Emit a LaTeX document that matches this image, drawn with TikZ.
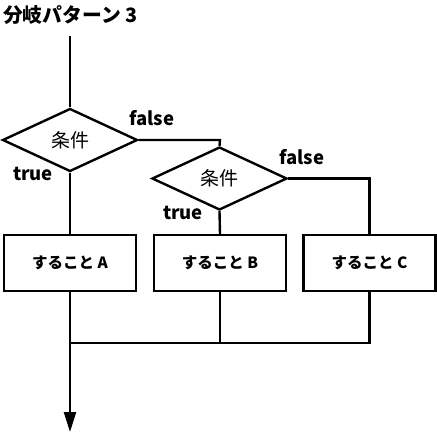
\documentclass[tikz,border=0pt]{standalone}
\usepackage{fontspec}
\setmainfont{Noto Sans CJK JP}
\usetikzlibrary{shapes.geometric,arrows.meta}
\tikzset{
  flow/.style={line width=2.4pt},
  cond/.style={diamond,draw,line width=2.4pt,minimum width=135pt,minimum height=63pt,inner sep=0pt,font=\fontsize{19pt}{19pt}\selectfont},
  act/.style={rectangle,draw,line width=2.4pt,minimum width=132pt,minimum height=56pt,inner sep=0pt,font=\bfseries\fontsize{15.5pt}{15.5pt}\selectfont},
  lbl/.style={inner sep=0pt,font=\bfseries\fontsize{18.5pt}{18.5pt}\selectfont},
}
\begin{document}
\begin{tikzpicture}[x=1pt,y=-1pt]
\useasboundingbox (0,0) rectangle (437,437);
\node[anchor=west,inner sep=0pt,font=\bfseries\fontsize{19.8pt}{19.8pt}\selectfont] (title) at (3,15) {分岐パターン 3};
\coordinate (s) at (70,36);
\node[cond] (d1) at (70,140) {条件};
\node[cond] (d2) at (219.5,178.5) {条件};
\coordinate (j1) at (220,140);
\node[act] (A) at (70,263) {すること A};
\node[act] (B) at (220,263) {すること B};
\node[act] (C) at (369.5,263) {すること C};
\coordinate (m) at (70,343);
\coordinate (e) at (70,432);
\node[lbl] (f1) at (152,118) {false};
\node[lbl] (t1) at (33,174) {true};
\node[lbl] (f2) at (302,157) {false};
\node[lbl] (t2) at (183,213) {true};
\draw[flow] (s) -- (d1.north);
\draw[flow] (d1.east) -- (j1) -- (d2.north);
\draw[flow] (d1.south) -- (A.north);
\draw[flow] (d2.south) -- (B.north);
\draw[flow] (d2.east) -| (C.north);
\draw[flow] (B.south) |- (m);
\draw[flow] (C.south) |- (m);
\draw[flow,-{Triangle[length=20pt,width=12pt]}] (A.south) -- (e);
\end{tikzpicture}
\end{document}
